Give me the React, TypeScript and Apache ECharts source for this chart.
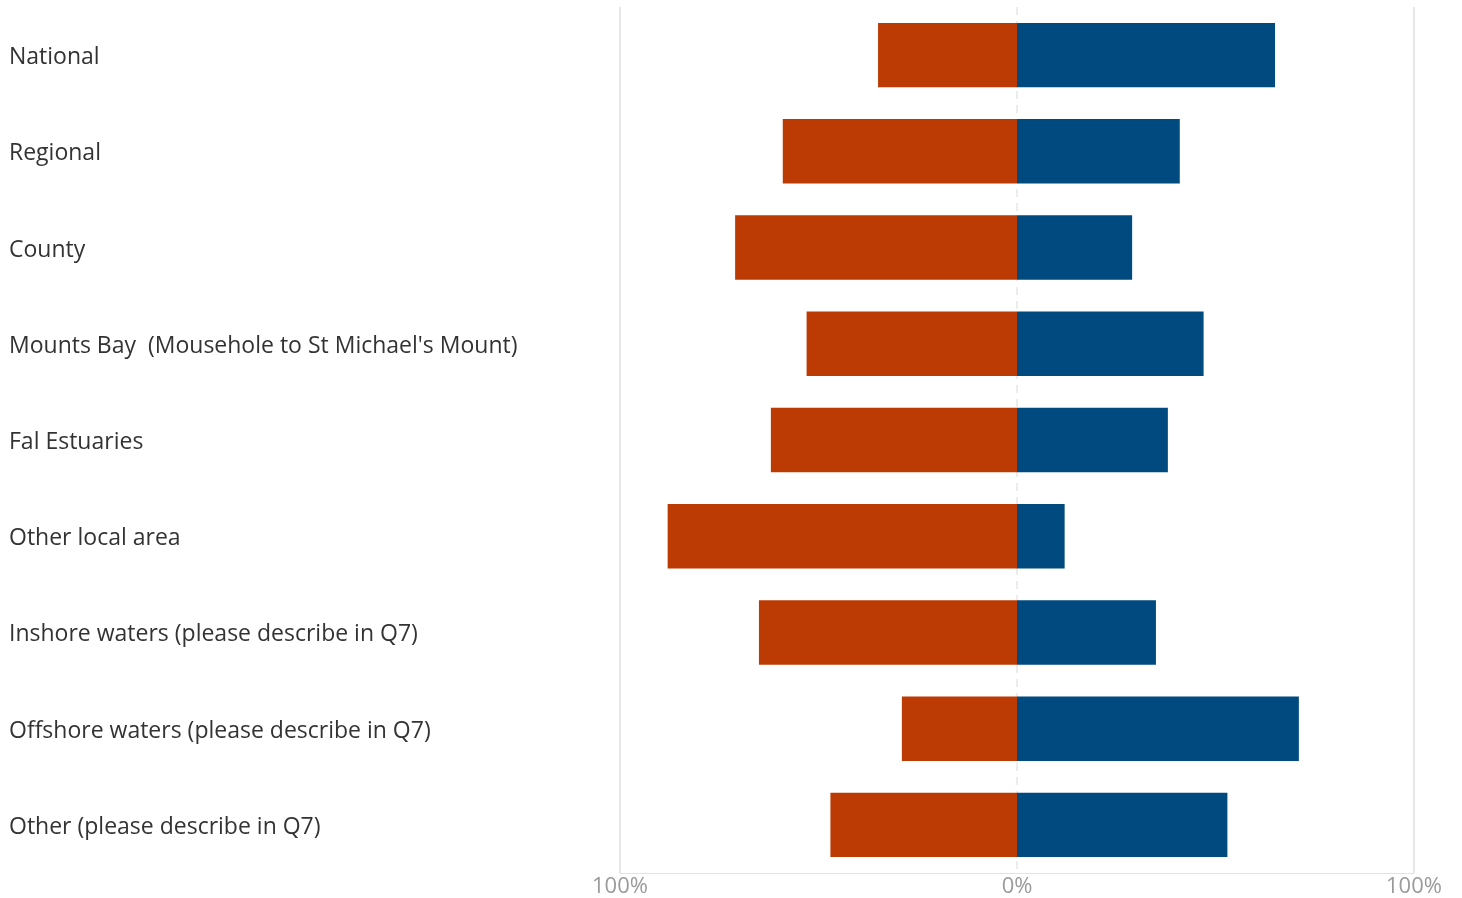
import React, { useEffect, useRef } from "react";
import * as echarts from "echarts";

const categories = [
  "National",
  "Regional",
  "County",
  "Mounts Bay  (Mousehole to St Michael's Mount)",
  "Fal Estuaries",
  "Other local area",
  "Inshore waters (please describe in Q7)",
  "Offshore waters (please describe in Q7)",
  "Other (please describe in Q7)",
];
const leftValues = [35, 59, 71, 53, 62, 88, 65, 29, 47];
const rightValues = [65, 41, 29, 47, 38, 12, 35, 71, 53];
const xTicks = [-100, 0, 100];

export default function App() {
  const ref = useRef<HTMLDivElement>(null);
  useEffect(() => {
    if (!ref.current) return;
    const chart = echarts.init(ref.current, null, { renderer: "svg" });
    chart.setOption({
      animation: false,
      grid: { left: 620, right: 48, top: 7, bottom: 25, containLabel: false },
      xAxis: {
        type: "value",
        min: -100,
        max: 100,
        interval: 100,
        axisLine: { show: true, lineStyle: { color: "#e3e3e3", width: 1 } },
        axisTick: { show: false },
        splitLine: { show: false },
        axisLabel: {
          color: "#9a9a9a",
          fontSize: 22,
          fontFamily: "Open Sans",
          margin: 0,
          formatter: (v: number) => Math.abs(v) + "%",
        },
      },
      yAxis: {
        type: "category",
        data: categories,
        inverse: true,
        axisLine: { show: false },
        axisTick: { show: false },
        axisLabel: {
          align: "left",
          margin: 611,
          color: "#333333",
          fontSize: 23,
          fontFamily: "Open Sans",
          padding: [4, 0, 0, 0],
        },
      },
      series: [
        {
          type: "bar",
          data: leftValues.map((v) => -v),
          barWidth: "67%",
          barGap: "-100%",
          itemStyle: { color: "#BC3A03" },
          markLine: {
            silent: true,
            symbol: "none",
            label: { show: false },
            data: xTicks.map((t) => ({
              xAxis: t,
              lineStyle: {
                color: "#e6e6e6",
                type: t === 0 ? [8, 6] : "solid",
                width: t === 0 ? 1.5 : 2,
              },
            })),
            z: 0,
          },
          z: 2,
        },
        {
          type: "bar",
          data: rightValues,
          barWidth: "67%",
          barGap: "-100%",
          itemStyle: { color: "#004A80" },
          z: 2,
        },
      ],
    });
    return () => chart.dispose();
  }, []);
  return (
    <div
      ref={ref}
      style={{ position: "fixed", left: 0, top: 0, width: 1462, height: 898 }}
    />
  );
}
